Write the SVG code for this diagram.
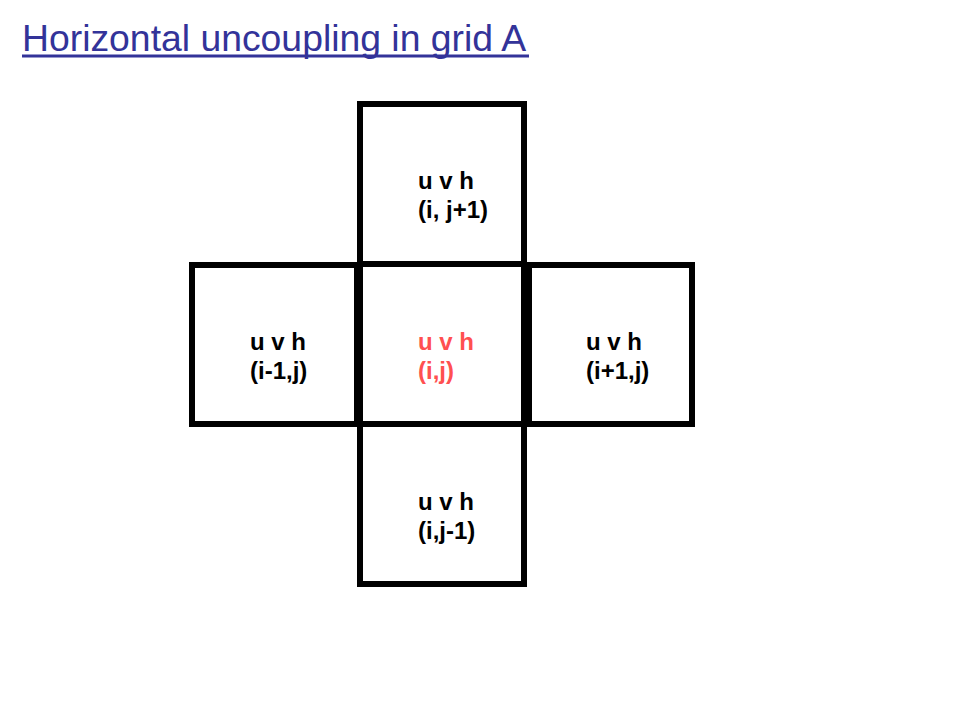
<svg xmlns="http://www.w3.org/2000/svg" width="960" height="720" viewBox="0 0 960 720">
  <style>
    .cell { fill: none; stroke: #000000; stroke-width: 6; }
    .lbl { font-family: "Liberation Sans", Arial, sans-serif; font-size: 24px; font-weight: bold; fill: #000000; }
    .hot { fill: #ff5050; }
    .title { font-family: "Liberation Sans", Arial, sans-serif; font-size: 37.33px; fill: #333399; }
  </style>
  <rect width="960" height="720" fill="#ffffff"/>
  <g id="title">
    <text class="title" x="22" y="50.5">Horizontal uncoupling in grid A</text>
    <rect x="22" y="54.5" width="507" height="3" fill="#333399"/>
  </g>
  <g id="cell-top">
    <rect class="cell" x="360" y="104" width="164" height="160"/>
    <text class="lbl" x="418" y="189">u v h</text>
    <text class="lbl" x="418" y="218">(i, j+1)</text>
  </g>
  <g id="cell-left">
    <rect class="cell" x="192" y="265" width="165" height="159"/>
    <text class="lbl" x="250" y="350">u v h</text>
    <text class="lbl" x="250" y="379">(i-1,j)</text>
  </g>
  <g id="cell-right">
    <rect class="cell" x="529" y="265" width="163" height="159"/>
    <text class="lbl" x="586" y="350">u v h</text>
    <text class="lbl" x="586" y="379">(i+1,j)</text>
  </g>
  <g id="cell-bottom">
    <rect class="cell" x="360" y="424" width="164" height="160"/>
    <text class="lbl" x="418" y="510">u v h</text>
    <text class="lbl" x="418" y="539">(i,j-1)</text>
  </g>
  <g id="cell-center">
    <rect class="cell" x="360" y="264" width="164" height="160"/>
    <text class="lbl hot" x="418" y="350">u v h</text>
    <text class="lbl hot" x="418" y="379">(i,j)</text>
  </g>
</svg>
